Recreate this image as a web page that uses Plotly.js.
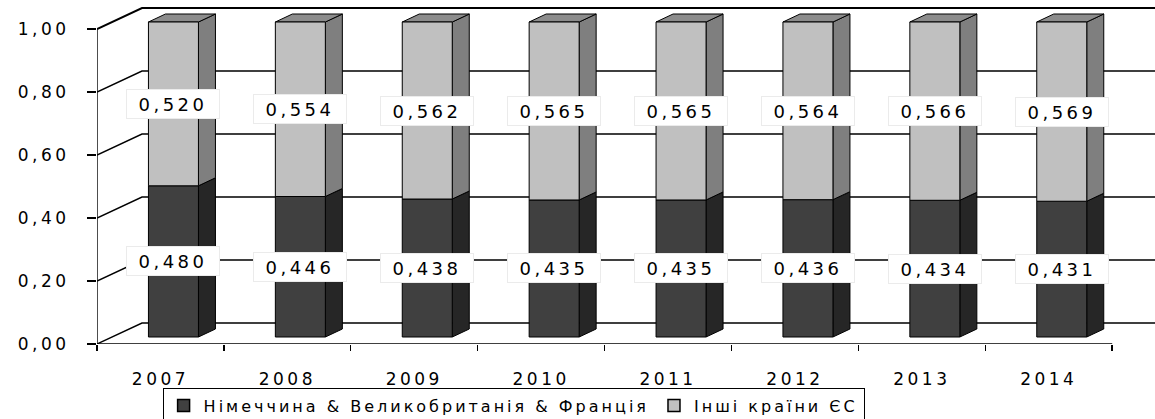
<!DOCTYPE html>
<html>
<head>
<meta charset="utf-8">
<script src="https://cdn.plot.ly/plotly-3.0.1.min.js"></script>
<style>
  html, body { margin: 0; padding: 0; background: #fff; }
  #chart { width: 1155px; height: 419px; }
  text { letter-spacing: 3.5px; }
  text.legendtext { letter-spacing: 3px; }
</style>
</head>
<body>
<div id="chart"></div>
<script>
// ---- data ----
const years = ['2007', '2008', '2009', '2010', '2011', '2012', '2013', '2014'];
const seriesNames = ['Німеччина & Великобританія & Франція', 'Інші країни ЄС'];
const bigThree = [0.480, 0.446, 0.438, 0.435, 0.435, 0.436, 0.434, 0.431];
const otherEU = [0.520, 0.554, 0.562, 0.565, 0.565, 0.564, 0.566, 0.569];
const yTicks = [0, 0.2, 0.4, 0.6, 0.8, 1.0];

// ---- geometry (pseudo-3D, in axis units) ----
const KX = 126.9, KY = 315;           // px per unit
const X0 = -0.5;
const XMAX = X0 + 1058 / KX;
const YMAX = 344 / KY;
const DX = 45 / KX, DY = 21 / KY;     // full depth of the box
const FX = 13 / KX, FY = 7 / KY;      // bar front-face offset
const W = 50 / KX;                    // bar front width
const BDX = 17 / KX, BDY = 8 / KY;    // bar depth

const FONT = 'DejaVu Sans, Liberation Sans, Arial, sans-serif';
const cols = {
  darkFront: '#404040', darkSide: '#262626',
  lightFront: '#c0c0c0', lightSide: '#7f7f7f', lightTop: '#8c8c8c'
};

function poly(xs, ys, pts) { pts.forEach(p => { xs.push(p[0]); ys.push(p[1]); }); xs.push(null); ys.push(null); }

// back wall & floor grid
const gx = [], gy = [];
yTicks.slice(0, -1).forEach(v => poly(gx, gy, [[X0, v], [X0 + DX, v + DY], [XMAX, v + DY]]));
const tx = [], ty = [];
poly(tx, ty, [[X0, 1], [X0 + DX, 1 + DY], [XMAX, 1 + DY]]);

// bars
const faces = { darkFront: [[], []], darkSide: [[], []], lightFront: [[], []], lightSide: [[], []], lightTop: [[], []] };
years.forEach((yr, i) => {
  const xl = i + FX - W / 2, xr = i + FX + W / 2;
  const segs = [[0, bigThree[i], 'dark'], [bigThree[i], bigThree[i] + otherEU[i], 'light']];
  segs.forEach(([a, b, k]) => {
    poly(faces[k + 'Side'][0], faces[k + 'Side'][1],
      [[xr, a + FY], [xr + BDX, a + FY + BDY], [xr + BDX, b + FY + BDY], [xr, b + FY], [xr, a + FY]]);
    poly(faces[k + 'Front'][0], faces[k + 'Front'][1],
      [[xl, a + FY], [xr, a + FY], [xr, b + FY], [xl, b + FY], [xl, a + FY]]);
  });
  const top = bigThree[i] + otherEU[i];
  poly(faces.lightTop[0], faces.lightTop[1],
    [[xl, top + FY], [xl + BDX, top + FY + BDY], [xr + BDX, top + FY + BDY], [xr, top + FY], [xl, top + FY]]);
});

function lineTrace(xs, ys, w) {
  return { x: xs, y: ys, type: 'scatter', mode: 'lines', line: { color: '#000', width: w },
    showlegend: false, hoverinfo: 'skip', cliponaxis: false, connectgaps: false };
}
function faceTrace(key) {
  return { x: faces[key][0], y: faces[key][1], type: 'scatter', mode: 'lines', fill: 'toself',
    fillcolor: cols[key], line: { color: '#000', width: 1 }, showlegend: false, hoverinfo: 'skip',
    cliponaxis: false, connectgaps: false };
}

const traces = [
  lineTrace(gx, gy, 1.4),
  lineTrace(tx, ty, 2),
  lineTrace([X0, X0], [0, 1], 1.4),
  lineTrace([X0, years.length - 0.5], [0, 0], 1.4),
  faceTrace('darkSide'), faceTrace('lightSide'), faceTrace('lightTop'),
  faceTrace('darkFront'), faceTrace('lightFront'),
  { x: [null], y: [null], type: 'scatter', mode: 'markers', name: seriesNames[0],
    marker: { symbol: 'square', size: 12, color: cols.darkFront, line: { color: '#000', width: 1.5 } } },
  { x: [null], y: [null], type: 'scatter', mode: 'markers', name: seriesNames[1],
    marker: { symbol: 'square', size: 12, color: cols.lightFront, line: { color: '#000', width: 1.5 } } }
];

const fmt = v => v.toFixed(3).replace('.', ',');
const annotations = [];
years.forEach((yr, i) => {
  [[bigThree[i] / 2, bigThree[i]], [bigThree[i] + otherEU[i] / 2, otherEU[i]]].forEach(([yc, val]) => {
    annotations.push({ x: i + FX, y: yc + FY, xref: 'x', yref: 'y', text: fmt(val), showarrow: false,
      font: { family: FONT, size: 18, color: '#000' }, bgcolor: '#fff', bordercolor: '#ebebeb',
      borderwidth: 1, borderpad: 4, width: 84, height: 20 });
  });
});

const layout = {
  width: 1155, height: 419,
  margin: { l: 97, r: 0, t: 0, b: 75, autoexpand: false },
  paper_bgcolor: '#fff', plot_bgcolor: '#fff',
  separators: ', ',
  font: { family: FONT, size: 16, color: '#000' },
  showlegend: true,
  legend: { orientation: 'h', x: 0.062, xanchor: 'left', y: -0.127, yanchor: 'top',
    bordercolor: '#000', borderwidth: 1, bgcolor: '#fff', font: { family: FONT, size: 16, color: '#000' },
    traceorder: 'normal', itemwidth: 30 },
  xaxis: { range: [X0, XMAX], tickmode: 'array', tickvals: years.map((y, i) => i), ticktext: years,
    ticks: '', showgrid: false, zeroline: false, showline: false, ticklabelstandoff: 23,
    tickfont: { family: FONT, size: 17, color: '#000' },
    minor: { tickmode: 'array', tickvals: years.map((y, i) => i - 0.5).concat([years.length - 0.5]),
      ticks: 'outside', ticklen: 6, tickcolor: '#000', tickwidth: 1.4, showgrid: false } },
  yaxis: { range: [0, YMAX], tickmode: 'array', tickvals: yTicks, tickformat: '.2f',
    ticks: 'outside', ticklen: 9, tickcolor: '#000', tickwidth: 1.4, showgrid: false, zeroline: false,
    showline: false, ticklabelstandoff: 14, tickfont: { family: FONT, size: 17, color: '#000' } },
  annotations: annotations
};

Plotly.newPlot('chart', traces, layout, { staticPlot: true, displayModeBar: false });
</script>
</body>
</html>
